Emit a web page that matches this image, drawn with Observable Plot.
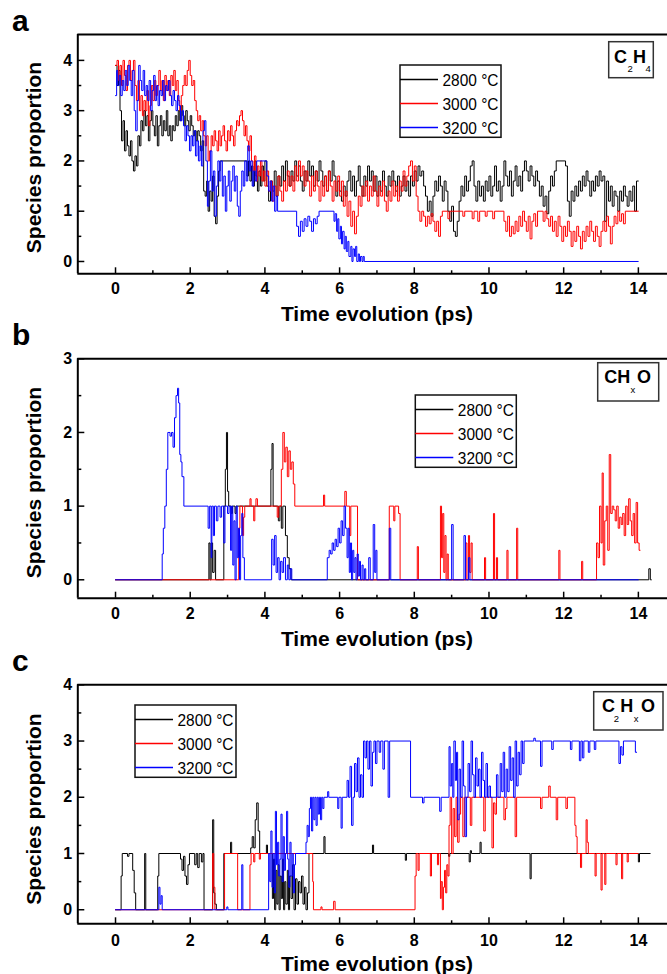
<!DOCTYPE html>
<html><head><meta charset="utf-8">
<script src="https://cdn.jsdelivr.net/npm/d3@7"></script>
<script src="https://cdn.jsdelivr.net/npm/@observablehq/plot@0.6"></script>
<style>
html,body{margin:0;padding:0;background:#fff;overflow:hidden}
#wrap{position:relative;width:667px;height:974px;overflow:hidden;background:#fff}
</style></head><body><div id="wrap"></div>
<script>
// ---------- data ----------
const series = ["2800 °C", "3000 °C", "3200 °C"];
const colors = ["#000000", "#ff0000", "#0000ff"];
const panelLetters = ["a", "b", "c"];
const xTitle = "Time evolution (ps)";
const yTitle = "Species proportion";
const xTicks = [0, 2, 4, 6, 8, 10, 12, 14];
const xMinorTicks = [1, 3, 5, 7, 9, 11, 13];
const yTicksA = [0, 1, 2, 3, 4], yMinorA = [0.5, 1.5, 2.5, 3.5];
const yTicksB = [0, 1, 2, 3], yMinorB = [0.5, 1.5, 2.5];
const yTicksC = [0, 1, 2, 3, 4], yMinorC = [0.5, 1.5, 2.5, 3.5];
const formulaA = [["C","m"],["2","s"],["H","m"],["4","s"]];
const formulaB = [["CH","m"],["x","s"],["O","m"]];
const formulaC = [["C","m"],["2","s"],["H","m"],["x","s"],["O","m"]];

// panel a : C2H4
const a2800 = [[0,3.9],[0.04,3.5],[0.08,3.8],[0.12,3.0],[0.16,2.4],[0.2,2.8],[0.24,2.2],[0.28,2.6],[0.32,2.3],[0.36,2.1],[0.4,2.4],[0.44,2.0],[0.48,1.8],[0.52,2.1],[0.56,1.9],[0.6,2.5],[0.64,2.3],[0.68,2.8],[0.72,2.6],[0.76,3.0],[0.8,2.7],[0.84,2.9],[0.88,2.4],[0.92,2.8],[0.96,3.0],[1.0,2.7],[1.04,2.5],[1.08,2.9],[1.12,2.3],[1.16,2.7],[1.2,2.9],[1.24,2.5],[1.28,2.8],[1.32,2.6],[1.36,3.0],[1.4,2.5],[1.44,2.7],[1.48,2.4],[1.52,2.7],[1.56,2.6],[1.6,2.9],[1.64,2.7],[1.68,3.0],[1.72,2.8],[1.76,3.1],[1.8,2.9],[1.84,2.7],[1.88,3.0],[1.92,2.8],[1.96,2.6],[2.0,2.9],[2.04,2.7],[2.08,2.5],[2.12,2.6],[2.16,2.4],[2.2,2.6],[2.24,2.5],[2.28,2.2],[2.32,2.4],[2.36,1.4],[2.4,1.3],[2.44,1.6],[2.48,1.0],[2.52,1.4],[2.56,1.2],[2.6,1.7],[2.64,0.9],[2.68,0.75],[2.72,1.3],[2.76,1.8],[2.8,2.0],[3.52,1.7],[3.56,2.0],[3.6,1.6],[3.64,1.9],[3.68,1.5],[3.72,2.0],[3.76,1.7],[3.8,1.4],[3.84,1.8],[3.88,1.5],[3.92,1.9],[3.96,1.6],[4.0,2.0],[4.05,1.5],[4.1,1.2],[4.15,1.6],[4.2,1.4],[4.25,1.8],[4.3,1.3],[4.35,1.7],[4.4,1.5],[4.45,1.9],[4.5,1.6],[4.55,2.0],[4.6,1.7],[4.65,1.5],[4.7,1.8],[4.75,1.6],[4.8,2.0],[4.85,1.7],[4.9,1.9],[4.95,1.6],[5.0,1.4],[5.05,1.8],[5.1,1.6],[5.15,2.0],[5.2,1.7],[5.25,1.9],[5.3,1.5],[5.35,1.8],[5.4,1.6],[5.45,2.0],[5.5,1.8],[5.55,1.5],[5.6,1.7],[5.65,1.4],[5.7,1.8],[5.75,1.6],[5.8,2.0],[5.85,1.7],[5.9,1.3],[5.95,1.6],[6.0,1.4],[6.05,1.2],[6.1,1.5],[6.15,1.3],[6.2,1.6],[6.25,1.8],[6.3,1.4],[6.35,1.7],[6.4,1.3],[6.45,1.6],[6.5,1.9],[6.55,1.5],[6.6,1.3],[6.65,1.7],[6.7,1.5],[6.75,1.9],[6.8,1.6],[6.85,1.8],[6.9,1.4],[6.95,1.7],[7.0,1.3],[7.05,1.6],[7.1,1.4],[7.15,1.8],[7.2,1.5],[7.25,1.3],[7.3,1.7],[7.35,1.5],[7.4,1.8],[7.45,1.6],[7.5,1.4],[7.55,1.7],[7.6,1.3],[7.65,1.5],[7.7,1.7],[7.75,1.4],[7.8,1.6],[7.85,1.3],[7.9,1.7],[7.95,1.5],[8.0,1.8],[8.05,1.6],[8.1,1.9],[8.15,1.7],[8.2,1.8],[8.25,1.5],[8.3,1.3],[8.35,1.0],[8.4,1.2],[8.45,0.9],[8.5,1.3],[8.55,1.6],[8.6,1.4],[8.65,1.7],[8.7,1.5],[8.75,1.2],[8.8,1.6],[8.85,1.4],[8.9,1.0],[8.95,0.8],[9.0,1.1],[9.05,0.6],[9.1,0.5],[9.15,0.8],[9.2,1.2],[9.25,1.5],[9.3,1.3],[9.35,1.7],[9.4,1.4],[9.45,1.6],[9.5,1.9],[9.55,2.0],[9.6,1.5],[9.65,1.2],[9.7,1.6],[9.75,1.3],[9.8,1.5],[9.85,1.2],[9.9,1.6],[9.95,1.4],[10.0,1.7],[10.05,1.3],[10.1,1.5],[10.15,1.9],[10.2,1.4],[10.25,1.6],[10.3,1.2],[10.35,1.5],[10.4,2.0],[10.45,1.7],[10.5,1.5],[10.55,1.8],[10.6,1.3],[10.65,1.6],[10.7,1.9],[10.75,1.5],[10.8,1.7],[10.85,1.4],[10.9,1.8],[10.95,2.0],[11.0,1.8],[11.05,1.6],[11.1,1.9],[11.15,1.7],[11.2,1.5],[11.25,1.8],[11.3,1.6],[11.35,1.3],[11.4,1.5],[11.45,1.1],[11.5,1.3],[11.55,0.95],[11.6,1.4],[11.65,1.7],[11.7,1.5],[11.75,1.8],[11.8,2.0],[12.05,1.9],[12.1,1.2],[12.15,0.9],[12.2,1.4],[12.25,1.2],[12.3,1.5],[12.35,1.3],[12.4,1.6],[12.45,1.4],[12.5,1.7],[12.55,1.5],[12.6,1.8],[12.65,1.6],[12.7,1.3],[12.75,1.6],[12.8,1.4],[12.85,1.7],[12.9,1.5],[12.95,1.8],[13.0,1.6],[13.05,1.7],[13.1,0.8],[13.15,1.6],[13.2,1.2],[13.25,1.5],[13.3,1.1],[13.35,1.4],[13.4,1.3],[13.45,1.0],[13.5,1.4],[13.55,1.2],[13.6,1.5],[13.65,1.3],[13.7,1.1],[13.75,1.4],[13.8,1.2],[13.85,1.5],[13.9,1.0],[13.95,1.6],[14.0,1.6]];
const a3000 = [[0,3.9],[0.04,4.0],[0.08,3.6],[0.12,3.9],[0.16,3.5],[0.2,4.0],[0.24,3.7],[0.28,3.4],[0.32,3.9],[0.36,4.0],[0.4,3.6],[0.44,3.8],[0.48,4.0],[0.52,3.5],[0.56,3.2],[0.6,3.6],[0.64,3.0],[0.68,3.3],[0.72,2.9],[0.76,3.2],[0.8,3.0],[0.84,3.4],[0.88,2.7],[0.92,3.1],[0.96,3.5],[1.0,3.2],[1.04,3.6],[1.08,3.3],[1.12,3.5],[1.16,3.8],[1.2,3.4],[1.24,3.6],[1.28,3.2],[1.32,3.7],[1.36,3.4],[1.4,3.6],[1.44,3.3],[1.48,3.7],[1.52,3.5],[1.56,3.8],[1.6,3.4],[1.64,3.6],[1.68,3.2],[1.72,3.0],[1.76,3.3],[1.8,3.5],[1.84,3.7],[1.88,3.5],[1.92,3.8],[1.96,4.0],[2.0,3.7],[2.04,3.5],[2.08,3.6],[2.12,3.2],[2.16,3.0],[2.2,2.8],[2.24,2.9],[2.28,2.6],[2.32,2.8],[2.36,2.5],[2.4,2.3],[2.44,2.5],[2.48,2.0],[2.52,2.2],[2.56,2.5],[2.6,2.3],[2.64,2.6],[2.68,2.4],[2.72,2.2],[2.76,2.6],[2.8,2.3],[2.84,2.5],[2.88,2.7],[2.92,2.4],[2.96,2.2],[3.0,2.6],[3.04,2.4],[3.08,2.7],[3.12,2.5],[3.16,2.3],[3.2,2.6],[3.24,2.8],[3.28,2.7],[3.32,2.9],[3.36,3.0],[3.4,2.8],[3.44,2.5],[3.48,2.7],[3.52,2.4],[3.56,2.2],[3.6,2.5],[3.64,2.0],[3.68,1.8],[3.72,2.1],[3.76,1.6],[3.8,1.9],[3.84,1.7],[3.88,2.0],[3.92,1.6],[3.96,1.8],[4.0,1.5],[4.05,1.8],[4.1,1.4],[4.15,1.6],[4.2,1.2],[4.25,1.5],[4.3,1.3],[4.35,1.7],[4.4,1.4],[4.45,1.2],[4.5,1.6],[4.55,1.4],[4.6,1.8],[4.65,1.5],[4.7,1.7],[4.75,1.4],[4.8,1.9],[4.85,1.6],[4.9,2.0],[4.95,1.7],[5.0,1.9],[5.05,1.5],[5.1,1.8],[5.15,1.6],[5.2,1.3],[5.25,1.7],[5.3,1.4],[5.35,1.8],[5.4,1.5],[5.45,1.2],[5.5,1.6],[5.55,1.3],[5.6,1.7],[5.65,1.4],[5.7,1.8],[5.75,1.5],[5.8,1.2],[5.85,1.6],[5.9,1.4],[5.95,1.7],[6.0,1.3],[6.05,1.6],[6.1,1.1],[6.15,1.4],[6.2,0.9],[6.25,1.2],[6.3,0.7],[6.35,1.0],[6.4,0.55],[6.45,0.9],[6.5,1.3],[6.55,1.1],[6.6,1.5],[6.65,1.3],[6.7,1.6],[6.75,1.2],[6.8,1.5],[6.85,1.3],[6.9,1.7],[6.95,1.4],[7.0,1.1],[7.05,1.5],[7.1,1.3],[7.15,1.6],[7.2,1.2],[7.25,1.0],[7.3,1.4],[7.35,1.2],[7.4,1.6],[7.45,1.3],[7.5,1.5],[7.55,1.2],[7.6,1.6],[7.65,1.4],[7.7,1.8],[7.75,1.5],[7.8,1.7],[7.85,1.9],[7.9,2.0],[7.95,1.6],[8.0,1.9],[8.05,1.3],[8.1,1.0],[8.15,0.8],[8.2,1.0],[8.25,0.9],[8.3,0.7],[8.35,0.9],[8.4,0.75],[8.45,0.95],[8.5,0.8],[8.55,0.6],[8.6,0.8],[8.65,0.5],[8.7,0.9],[8.75,1.0],[8.9,0.85],[8.95,1.0],[9.3,0.9],[9.35,1.0],[9.55,0.85],[9.6,1.0],[9.7,0.8],[9.75,1.0],[9.9,0.9],[9.95,1.0],[10.1,0.85],[10.15,1.0],[10.4,0.8],[10.45,0.6],[10.5,0.9],[10.55,0.5],[10.6,0.7],[10.65,0.55],[10.7,0.8],[10.75,0.6],[10.8,0.9],[10.85,0.7],[10.9,1.0],[10.95,0.8],[11.0,0.6],[11.05,0.9],[11.1,0.45],[11.15,0.8],[11.2,0.95],[11.25,0.7],[11.3,1.0],[11.45,0.8],[11.5,1.0],[11.55,0.85],[11.6,0.7],[11.65,0.9],[11.7,0.6],[11.75,0.8],[11.8,0.5],[11.85,0.9],[11.9,0.7],[11.95,0.4],[12.0,0.7],[12.05,0.5],[12.1,0.8],[12.15,0.6],[12.2,0.3],[12.25,0.6],[12.3,0.4],[12.35,0.7],[12.4,0.5],[12.45,0.25],[12.5,0.6],[12.55,0.4],[12.6,0.7],[12.65,0.5],[12.7,0.8],[12.75,0.6],[12.8,0.4],[12.85,0.7],[12.9,0.5],[12.95,0.3],[13.0,0.6],[13.05,0.8],[13.1,0.6],[13.15,0.9],[13.2,0.7],[13.25,0.35],[13.3,0.7],[13.35,0.9],[13.4,0.75],[13.45,1.0],[13.5,0.8],[13.55,0.95],[13.6,0.75],[13.65,1.0],[14.0,1.0]];
const a3200 = [[0,3.3],[0.03,3.8],[0.06,3.5],[0.1,3.7],[0.14,3.3],[0.18,3.6],[0.22,3.4],[0.26,3.8],[0.3,3.5],[0.34,3.9],[0.38,3.6],[0.42,3.3],[0.46,3.8],[0.5,3.0],[0.54,2.6],[0.58,3.2],[0.62,3.9],[0.66,3.6],[0.7,3.4],[0.74,3.8],[0.78,3.3],[0.82,3.5],[0.86,3.2],[0.9,3.6],[0.94,3.0],[0.98,3.4],[1.02,3.7],[1.06,3.2],[1.1,3.5],[1.14,3.1],[1.18,3.4],[1.22,3.3],[1.26,3.6],[1.3,3.2],[1.34,3.5],[1.38,3.4],[1.42,3.6],[1.46,3.3],[1.5,3.1],[1.54,3.4],[1.58,3.2],[1.62,3.0],[1.66,3.3],[1.7,3.1],[1.74,2.8],[1.78,3.0],[1.82,2.7],[1.86,2.4],[1.9,2.7],[1.94,2.5],[1.98,2.2],[2.02,2.5],[2.06,2.3],[2.1,2.6],[2.14,2.1],[2.18,2.4],[2.22,2.0],[2.26,2.3],[2.3,1.9],[2.34,2.6],[2.38,2.8],[2.42,2.0],[2.46,1.1],[2.5,1.6],[2.54,2.2],[2.58,1.4],[2.62,1.8],[2.66,0.9],[2.7,1.5],[2.74,2.0],[2.78,1.6],[2.82,2.0],[2.86,1.3],[2.9,1.7],[2.94,1.0],[2.98,1.5],[3.02,1.8],[3.06,1.2],[3.1,1.6],[3.14,1.9],[3.18,1.4],[3.22,1.7],[3.26,1.1],[3.3,0.9],[3.34,1.4],[3.38,1.8],[3.42,1.5],[3.46,2.0],[3.5,1.6],[3.54,2.3],[3.58,1.8],[3.62,2.0],[3.66,1.5],[3.7,1.8],[3.74,1.6],[3.78,2.0],[4.05,1.7],[4.1,1.4],[4.14,1.6],[4.18,1.2],[4.22,1.5],[4.26,1.0],[4.3,1.3],[4.34,1.0],[4.85,0.7],[4.9,0.5],[4.95,0.8],[5.0,0.6],[5.05,0.85],[5.1,0.7],[5.15,0.9],[5.2,0.8],[5.25,0.6],[5.3,0.85],[5.35,0.75],[5.4,0.9],[5.45,1.0],[5.85,0.8],[5.88,0.95],[5.92,0.6],[5.95,0.85],[5.98,0.45],[6.02,0.7],[6.05,0.35],[6.08,0.6],[6.12,0.25],[6.15,0.5],[6.18,0.2],[6.22,0.4],[6.25,0.1],[6.3,0.3],[6.33,0],[6.36,0.25],[6.4,0.1],[6.43,0.3],[6.46,0],[6.5,0.15],[6.53,0],[6.56,0.1],[6.6,0],[6.63,0.1],[6.66,0],[14.0,0]];

// panel b : CHxO
const b2800 = [[0,0],[2.5,0.5],[2.53,0],[2.56,0.5],[2.6,0.1],[2.64,0.4],[2.68,0],[2.9,1.0],[2.94,1.5],[2.97,2.0],[3.0,1.2],[3.03,1.0],[3.1,0.9],[3.13,1.0],[3.2,0.9],[3.23,1.0],[4.16,1.5],[4.19,1.85],[4.22,1.0],[4.36,0.8],[4.4,1.0],[4.44,0.7],[4.48,1.0],[4.55,0.6],[4.6,0.3],[4.65,0.15],[4.7,0],[14.28,0.15],[14.32,0],[14.35,0]];
const b3000 = [[0,0],[3.3,0.7],[3.33,1.0],[3.4,0.6],[3.43,0.85],[3.46,1.0],[3.6,1.1],[3.63,1.0],[3.7,0.8],[3.73,1.0],[3.76,1.1],[3.8,1.0],[4.33,0.85],[4.37,1.0],[4.44,1.5],[4.48,2.0],[4.52,1.6],[4.56,1.8],[4.6,1.4],[4.64,1.75],[4.68,1.5],[4.72,1.6],[4.76,1.3],[4.8,1.0],[5.57,1.15],[5.6,1.0],[6.14,1.2],[6.18,1.0],[6.27,0.6],[6.3,1.0],[6.48,0],[7.33,1.0],[7.45,0.8],[7.48,1.0],[7.58,0.9],[7.62,0],[8.08,0.45],[8.11,0],[8.7,1.0],[8.73,0.3],[8.76,0.9],[8.79,0.1],[8.82,0.6],[8.85,0],[8.88,0.35],[8.91,0],[9.38,0.5],[9.41,0],[9.45,0.6],[9.48,0.1],[9.52,0.5],[9.55,0],[9.88,0.3],[9.91,0],[10.12,0.9],[10.15,0],[10.2,0.3],[10.23,0],[10.48,0.4],[10.51,0],[10.74,0.7],[10.77,0],[11.87,0.4],[11.9,0],[12.48,0.25],[12.51,0],[12.88,0.5],[12.92,0.3],[12.96,1.0],[13.0,0.5],[13.03,1.45],[13.06,0.2],[13.1,0.8],[13.14,1.0],[13.18,0.4],[13.22,1.7],[13.26,0.9],[13.3,1.0],[13.34,0.95],[13.38,0.8],[13.42,1.0],[13.46,0.7],[13.5,0.85],[13.54,0.75],[13.58,0.9],[13.62,0.6],[13.66,1.0],[13.7,0.75],[13.74,1.1],[13.78,0.8],[13.82,0.6],[13.86,0.9],[13.9,0.5],[13.94,1.05],[13.98,0.5],[14.02,0.4],[14.05,0.4]];
const b3200 = [[0,0],[1.25,0.35],[1.28,0.7],[1.32,1.0],[1.36,1.5],[1.4,2.0],[1.46,1.95],[1.5,2.0],[1.54,1.8],[1.58,2.2],[1.62,2.5],[1.66,2.6],[1.69,2.4],[1.72,1.7],[1.75,1.6],[1.78,1.4],[1.83,1.0],[2.48,0.7],[2.52,1.0],[2.56,0.3],[2.58,1.0],[2.62,0.6],[2.65,1.0],[2.7,0.8],[2.74,1.0],[2.8,0.85],[2.84,1.0],[2.9,0.5],[2.93,1.0],[3.0,0.9],[3.04,1.0],[3.08,0.4],[3.11,1.0],[3.14,0.2],[3.17,0.8],[3.2,0],[3.23,1.0],[3.26,0.3],[3.29,0.7],[3.32,0],[3.35,0.6],[3.38,0.9],[3.41,0.3],[3.45,0],[4.18,0.55],[4.22,0.2],[4.26,0.6],[4.3,0.1],[4.34,0.3],[4.38,0],[4.42,0.25],[4.46,0.1],[4.5,0.3],[4.55,0],[4.6,0.2],[4.64,0],[4.68,0.15],[4.72,0],[5.67,0.3],[5.72,0.4],[5.76,0.35],[5.8,0.5],[5.84,0.4],[5.88,0.55],[5.92,0.45],[5.96,0.7],[6.0,0.5],[6.04,0.8],[6.08,0.6],[6.12,1.0],[6.16,0.7],[6.2,0.3],[6.23,0.7],[6.26,0.1],[6.29,0.5],[6.32,0],[6.35,0.4],[6.38,0.1],[6.41,0.3],[6.44,0],[6.47,0.35],[6.5,0.05],[6.53,0.25],[6.56,0],[6.6,0.2],[6.63,0],[6.67,0.15],[6.7,0],[6.78,0.3],[6.82,0],[6.9,0.75],[6.94,0.1],[6.97,0.4],[7.0,0],[7.33,0.7],[7.37,0],[9.0,0.75],[9.04,0],[9.33,0.6],[9.37,0],[9.45,0.3],[9.49,0],[14.0,0]];

// panel c : C2HxO
const c2800 = [[0,0],[0.15,0.6],[0.18,1.0],[0.32,0.95],[0.36,1.0],[0.46,0.7],[0.5,0.3],[0.54,0],[0.78,1.0],[0.81,0],[1.13,0.6],[1.16,1.0],[1.74,0.9],[1.78,0.7],[1.82,0.95],[1.86,0.6],[1.9,0.45],[1.94,0.8],[1.98,1.0],[2.12,0.8],[2.16,1.0],[2.2,0.75],[2.24,1.0],[2.3,0.85],[2.34,1.0],[2.37,0],[2.6,1.6],[2.63,0.3],[2.66,0.1],[2.7,0],[2.9,1.0],[3.08,1.2],[3.11,1.0],[3.62,1.1],[3.66,1.3],[3.7,1.1],[3.74,1.6],[3.78,1.9],[3.82,1.4],[3.86,1.0],[4.04,1.15],[4.07,1.0],[4.2,0.2],[4.23,0.9],[4.26,0],[4.29,0.7],[4.32,0.1],[4.35,0.8],[4.38,0],[4.41,0.6],[4.44,0.2],[4.47,0.9],[4.5,0],[4.53,0.5],[4.56,0.1],[4.6,0.7],[4.63,0],[4.66,0.6],[4.7,0.2],[4.74,0.8],[4.78,0],[4.82,0.55],[4.86,0.1],[4.9,0.5],[4.94,0.3],[4.98,0.6],[5.02,0.1],[5.06,0.4],[5.1,0],[5.14,0.3],[5.18,1.0],[5.58,1.3],[5.61,1.0],[6.88,1.15],[6.91,1.0],[7.76,0.88],[7.79,1.0],[8.92,0.95],[8.95,1.0],[9.47,0.85],[9.5,1.05],[9.53,1.0],[9.76,1.2],[9.79,1.0],[11.1,0.55],[11.13,1.0],[14.0,0.85],[14.03,1.0],[14.32,1.0]];
const c3000 = [[0,0],[2.6,1.0],[2.63,0.4],[2.66,0],[2.92,1.0],[3.27,0],[3.6,0.8],[3.63,1.0],[3.7,0.85],[3.73,1.0],[3.85,0.9],[3.88,1.0],[5.28,0.5],[5.3,0],[5.5,0.05],[5.53,0],[5.84,0.15],[5.88,0],[8.02,0.6],[8.05,1.0],[8.1,0.7],[8.13,1.0],[8.43,0.6],[8.46,1.0],[8.62,0.8],[8.65,1.0],[8.7,0.2],[8.72,0.5],[8.75,0],[8.78,0.4],[8.81,0.7],[8.84,0.3],[8.87,0.8],[8.9,0.6],[8.93,1.5],[8.96,2.0],[9.0,1.0],[9.04,1.8],[9.08,1.3],[9.12,2.0],[9.16,1.2],[9.2,1.7],[9.24,2.0],[9.3,1.3],[9.34,2.0],[9.5,1.5],[9.54,2.0],[9.86,1.4],[9.9,2.0],[10.08,1.1],[10.12,1.9],[10.16,1.7],[10.2,2.0],[10.4,1.6],[10.44,1.8],[10.48,2.0],[10.7,1.3],[10.74,2.0],[11.38,1.8],[11.42,2.0],[11.6,2.2],[11.64,2.0],[11.8,1.6],[11.84,2.0],[12.06,1.8],[12.1,2.0],[12.3,1.5],[12.33,1.3],[12.36,1.0],[12.45,0.75],[12.48,1.0],[12.6,1.6],[12.63,1.2],[12.66,1.0],[12.84,0.6],[12.87,1.0],[13.0,0.35],[13.03,1.0],[13.1,0.45],[13.13,1.0],[13.4,0.8],[13.43,1.0],[13.55,0.55],[13.58,1.0],[13.7,0.85],[13.73,1.0],[14.0,1.0]];
const c3200 = [[0,0],[1.16,0.4],[1.19,0.1],[1.22,0.25],[1.25,0],[2.98,0.05],[3.01,0],[3.38,0.8],[3.41,0],[4.1,1.0],[4.13,0.5],[4.16,1.4],[4.19,0.4],[4.22,1.0],[4.25,0.3],[4.28,1.75],[4.31,0.8],[4.34,1.2],[4.37,0.6],[4.4,0.9],[4.43,1.7],[4.46,0.5],[4.49,1.3],[4.52,0.7],[4.55,1.0],[4.58,1.75],[4.61,0.9],[4.64,0.4],[4.67,1.2],[4.7,0.6],[4.73,1.0],[4.76,0.3],[4.79,0.8],[4.82,1.0],[5.1,1.2],[5.13,1.5],[5.16,1.3],[5.19,1.8],[5.22,2.0],[5.25,1.4],[5.28,2.0],[5.31,1.6],[5.34,2.0],[5.37,1.5],[5.4,2.0],[5.43,1.7],[5.46,2.0],[5.49,1.6],[5.52,2.0],[5.55,1.8],[5.58,2.0],[5.68,2.1],[5.71,2.0],[5.95,1.8],[5.98,2.0],[6.04,1.45],[6.07,2.0],[6.2,2.3],[6.24,2.0],[6.28,2.55],[6.32,1.5],[6.36,2.0],[6.4,2.6],[6.44,2.1],[6.48,2.7],[6.52,2.0],[6.56,2.4],[6.6,2.0],[6.64,3.0],[6.68,2.7],[6.72,3.0],[6.76,2.5],[6.8,3.0],[6.84,2.2],[6.88,2.8],[6.92,3.0],[6.96,2.6],[7.0,3.0],[7.06,2.8],[7.1,3.0],[7.16,2.5],[7.2,3.0],[7.3,2.0],[7.34,3.0],[7.9,2.0],[8.22,1.9],[8.26,2.0],[8.68,1.75],[8.72,2.0],[8.93,2.9],[8.96,2.2],[9.0,2.6],[9.03,2.0],[9.06,3.0],[9.1,2.3],[9.13,2.8],[9.16,1.6],[9.2,2.5],[9.24,2.0],[9.28,3.0],[9.32,2.2],[9.36,1.3],[9.4,2.0],[9.44,2.6],[9.48,2.1],[9.52,3.0],[9.56,2.4],[9.6,2.0],[9.64,2.7],[9.68,2.2],[9.72,2.5],[9.76,2.0],[9.8,2.8],[9.84,2.3],[9.88,2.0],[9.92,2.6],[9.96,2.0],[10.0,2.2],[10.04,2.0],[10.2,2.4],[10.24,2.0],[10.3,2.6],[10.34,2.1],[10.38,2.8],[10.42,2.0],[10.46,2.5],[10.5,2.1],[10.54,2.9],[10.58,2.3],[10.62,2.7],[10.66,2.0],[10.7,3.0],[10.74,2.2],[10.78,2.8],[10.82,2.4],[10.86,3.0],[10.9,2.6],[10.94,3.0],[11.2,3.05],[11.24,3.0],[11.38,2.55],[11.42,3.0],[11.68,2.85],[11.72,3.0],[12.18,2.85],[12.22,3.0],[12.42,2.65],[12.46,3.0],[12.5,2.7],[12.54,3.0],[12.66,2.8],[12.7,3.0],[12.82,2.85],[12.86,3.0],[13.48,2.6],[13.52,2.9],[13.56,2.75],[13.6,3.0],[13.92,2.8],[13.96,2.8]];

// ---------- layout ----------
const W = 667, H = 974;
const FONT = "Liberation Sans, Arial, Helvetica, sans-serif";
const xDomain = [-1.01, 14.78];
const panels = [
  {data:[a2800,a3000,a3200], yTicks:yTicksA, yMinor:yMinorA, yDomain:[-0.245,4.515], top:0, height:330, mt:34, mb:56.7, gap:8.4},
  {data:[b2800,b3000,b3200], yTicks:yTicksB, yMinor:yMinorB, yDomain:[-0.25,3.0], top:330, height:330, mt:28.3, mb:62.3, gap:9},
  {data:[c2800,c3000,c3200], yTicks:yTicksC, yMinor:yMinorC, yDomain:[-0.25,4.0], top:660, height:314, mt:24.3, mb:50.7, gap:11}
];
const wrap = document.getElementById("wrap");
const intFmt = d => String(d);

panels.forEach(P => {
  const marks = [];
  P.data.forEach((s, k) => marks.push(Plot.line(s, {x: d => d[0], y: d => d[1], stroke: colors[k], strokeWidth: 1, curve: "step-after"})));
  marks.push(Plot.axisX({ticks: xTicks, tickFormat: intFmt, tickSize: -6, tickPadding: P.gap + 6, fontSize: 16, fontWeight: "bold", label: null, strokeWidth: 1.5}));
  marks.push(Plot.axisX({ticks: xMinorTicks, tickSize: -3, tickFormat: () => "", label: null, strokeWidth: 1.5}));
  marks.push(Plot.axisY({ticks: P.yTicks, tickFormat: intFmt, tickSize: -7, tickPadding: 12.6, fontSize: 16, fontWeight: "bold", label: null, strokeWidth: 1.5}));
  marks.push(Plot.axisY({ticks: P.yMinor, tickSize: -4, tickFormat: () => "", label: null, strokeWidth: 1.5}));
  marks.push(Plot.ruleY([P.yDomain[0], P.yDomain[1]], {strokeWidth: 2}));
  marks.push(Plot.ruleX([xDomain[0]], {strokeWidth: 2}));
  const svg = Plot.plot({
    width: W, height: P.height,
    marginLeft: 77.3, marginRight: 0, marginTop: P.mt, marginBottom: P.mb,
    x: {domain: xDomain}, y: {domain: P.yDomain},
    style: {background: "transparent", fontFamily: FONT, overflow: "visible"},
    marks
  });
  svg.style.position = "absolute";
  svg.style.top = P.top + "px";
  svg.style.left = "0px";
  wrap.appendChild(svg);
});

// ---------- overlay text, legends, formula boxes ----------
const ov = d3.select(wrap).append("svg")
  .attr("width", W).attr("height", H)
  .style("position", "absolute").style("top", "0px").style("left", "0px")
  .attr("font-family", FONT);

const letterPos = [[12, 30.7], [12, 345], [12, 671]];
panelLetters.forEach((t, i) => ov.append("text").attr("x", letterPos[i][0]).attr("y", letterPos[i][1])
  .attr("font-size", 30).attr("font-weight", "bold").text(t));

const yTitleCenters = [157.5, 482.5, 809];
yTitleCenters.forEach(cy => ov.append("text").attr("transform", `translate(41,${cy}) rotate(-90)`)
  .attr("text-anchor", "middle").attr("font-size", 21).attr("font-weight", "bold").text(yTitle));

const xTitleBaselines = [321, 646, 970.5];
xTitleBaselines.forEach(by => ov.append("text").attr("x", 377).attr("y", by)
  .attr("text-anchor", "middle").attr("font-size", 21).attr("font-weight", "bold").text(xTitle));

const legendPos = [[400, 65], [415.3, 395], [135, 705]];
legendPos.forEach(([lx, ly]) => {
  const g = ov.append("g").attr("transform", `translate(${lx},${ly})`);
  g.append("rect").attr("width", 101).attr("height", 72.3).attr("fill", "white").attr("stroke", "#111").attr("stroke-width", 1.5);
  series.forEach((s, k) => {
    const ry = 14.5 + k * 24;
    g.append("line").attr("x1", 0).attr("x2", 38).attr("y1", ry).attr("y2", ry).attr("stroke", colors[k]).attr("stroke-width", 1.5);
    g.append("text").attr("x", 42.5).attr("y", ry + 6.5).attr("font-size", 17)
      .attr("textLength", 56).attr("lengthAdjust", "spacingAndGlyphs").text(s);
  });
});

const boxes = [
  {f: formulaA, x: 608.7, y: 41.7, w: 44.6, h: 36, xs: [614, 627.5, 633, 645.5], bm: 63.3, bs: 71.7},
  {f: formulaB, x: 597.7, y: 362.7, w: 61, h: 38.3, xs: [604.3, 630.5, 637], bm: 383.3, bs: 392.7},
  {f: formulaC, x: 593.7, y: 691.7, w: 69.3, h: 38.3, xs: [602, 613.7, 620.3, 633.7, 641], bm: 712.3, bs: 721.7}
];
boxes.forEach(B => {
  ov.append("rect").attr("x", B.x).attr("y", B.y).attr("width", B.w).attr("height", B.h)
    .attr("fill", "white").attr("stroke", "#333").attr("stroke-width", 1.5);
  B.f.forEach(([t, kind], j) => {
    ov.append("text").attr("x", B.xs[j]).attr("y", kind === "m" ? B.bm : B.bs)
      .attr("font-size", kind === "m" ? 18 : 9.5).attr("font-weight", kind === "m" ? "bold" : "normal").text(t);
  });
});
</script></body></html>
